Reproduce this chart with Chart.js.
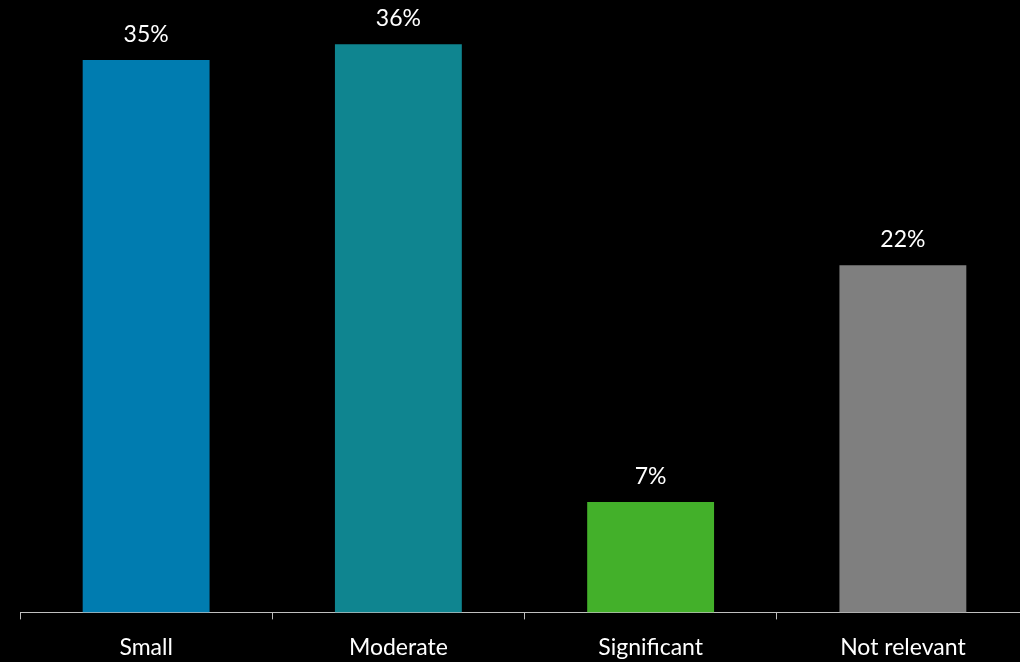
<!DOCTYPE html>
<html>
<head>
<meta charset="utf-8">
<script src="https://cdn.jsdelivr.net/npm/chart.js@4.4.1/dist/chart.umd.min.js"></script>
<style>
    html, body { margin: 0; padding: 0; background: #000; overflow: hidden; }
    #wrap { width: 1029px; height: 678px; }
</style>
</head>
<body>
<div id="wrap"><canvas id="bar-chart"></canvas></div>
<script>
const categories = ['Small', 'Moderate', 'Significant', 'Not relevant'];
const values = [35, 36, 7, 22];
const barColors = ['#007CB0', '#0F8590', '#43B02A', '#7F7F7F'];

const FONT = 'Lato, "Open Sans", sans-serif';

// draws the "35%" labels above each bar
const valueLabels = {
    id: 'valueLabels',
    afterDatasetsDraw(chart) {
        const ctx = chart.ctx;
        const meta = chart.getDatasetMeta(0);
        ctx.save();
        ctx.fillStyle = '#FFFFFF';
        ctx.font = '23px ' + FONT;
        ctx.textAlign = 'center';
        ctx.textBaseline = 'alphabetic';
        meta.data.forEach((bar, i) => {
            ctx.fillText(values[i] + '%', bar.x, bar.y - 18);
        });
        ctx.restore();
    }
};

document.addEventListener('DOMContentLoaded', function () {
    const ctx = document.getElementById('bar-chart').getContext('2d');
    new Chart(ctx, {
        type: 'bar',
        data: {
            labels: categories,
            datasets: [{
                data: values,
                backgroundColor: barColors,
                borderWidth: 0,
                categoryPercentage: 1,
                barPercentage: 0.503
            }]
        },
        options: {
            responsive: true,
            maintainAspectRatio: false,
            animation: false,
            layout: {
                padding: { left: 20, right: 0, top: 0, bottom: 3 }
            },
            scales: {
                y: {
                    display: false,
                    min: 0,
                    max: 38.8
                },
                x: {
                    border: { display: true, color: '#BFBFBF', width: 1 },
                    grid: {
                        offset: true,
                        drawOnChartArea: false,
                        drawTicks: true,
                        tickLength: 7,
                        color: '#BFBFBF'
                    },
                    ticks: {
                        color: '#FFFFFF',
                        padding: 14,
                        maxRotation: 0,
                        font: { family: FONT, size: 23 }
                    }
                }
            },
            plugins: {
                legend: { display: false },
                tooltip: { enabled: false }
            }
        },
        plugins: [valueLabels]
    });
});
</script>
</body>
</html>
